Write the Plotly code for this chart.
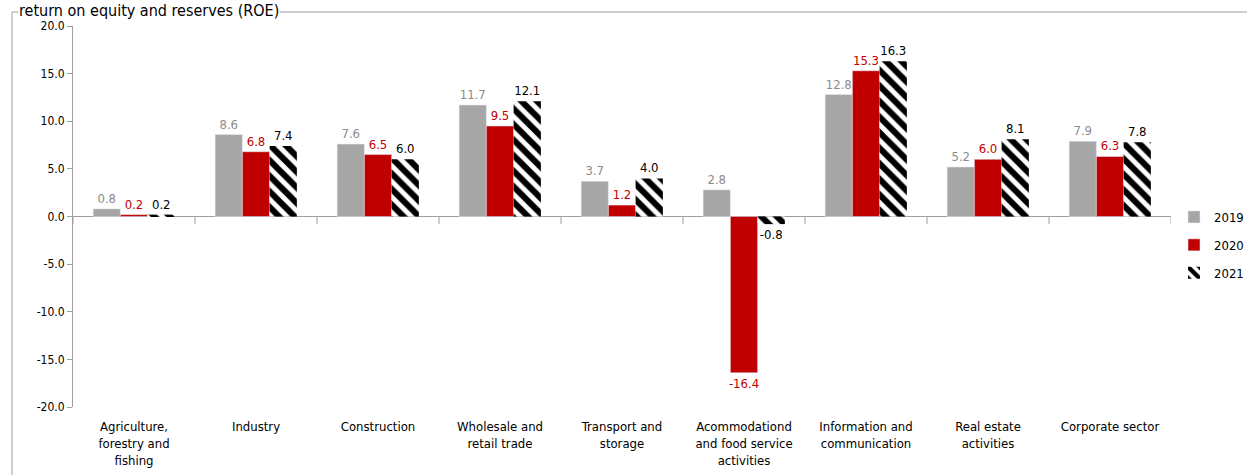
import plotly.graph_objects as go

categories = ["Agriculture,<br>forestry and<br>fishing", "Industry", "Construction",
              "Wholesale and<br>retail trade", "Transport and<br>storage",
              "Acommodationd<br>and food service<br>activities",
              "Information and<br>communication", "Real estate<br>activities", "Corporate sector"]
v2019 = [0.8, 8.6, 7.6, 11.7, 3.7, 2.8, 12.8, 5.2, 7.9]
v2020 = [0.2, 6.8, 6.5, 9.5, 1.2, -16.4, 15.3, 6.0, 6.3]
v2021 = [0.2, 7.4, 6.0, 12.1, 4.0, -0.8, 16.3, 8.1, 7.8]
ytick_vals = [-20, -15, -10, -5, 0, 5, 10, 15, 20]
ytick_text = ["-20.0", "-15.0", "-10.0", "-5.0", "0.0", "5.0", "10.0", "15.0", "20.0"]

FONT = "Tahoma, 'DejaVu Sans Condensed', 'DejaVu Sans', sans-serif"
xs = list(range(len(categories)))


def fmt(vals):
    return [f"{v:.1f}" for v in vals]


common = dict(textposition="outside", cliponaxis=False, constraintext="none")

fig = go.Figure()
fig.add_trace(go.Bar(x=xs, y=v2019, name="2019", marker=dict(color="#a6a6a6"),
                     text=fmt(v2019), textfont=dict(color="#8c8c8c", size=13, family=FONT),
                     legendgroup="a", **common))
fig.add_trace(go.Bar(x=xs, y=v2020, name="2020", marker=dict(color="#c00000"),
                     text=fmt(v2020), textfont=dict(color="#c00000", size=13, family=FONT),
                     legendgroup="b", **common))
fig.add_trace(go.Bar(x=xs, y=v2021, name="2021",
                     marker=dict(color="white", line=dict(width=0),
                                 pattern=dict(shape="\\", fgcolor="#000000", bgcolor="#ffffff",
                                              fgopacity=1, fillmode="replace",
                                              size=11, solidity=0.55)),
                     text=fmt(v2021), textfont=dict(color="black", size=13, family=FONT),
                     legendgroup="c", **common))

L, R, T, B = 73, 76, 26, 68
W, H = 1247, 475
pw, ph = W - L - R, H - T - B

shapes = []
# border frame
shapes.append(dict(type="rect", xref="paper", yref="paper",
                   x0=(12 - L) / pw, x1=1.2, y0=-0.5, y1=(H - B - 12) / ph,
                   line=dict(color="#a0a0a0", width=1), layer="below"))
# category tick marks on zero line
for i in range(len(categories) + 1):
    shapes.append(dict(type="line", xref="x", yref="y", x0=i - 0.5, x1=i - 0.5,
                       y0=0, y1=-0.8, line=dict(color="#a0a0a0", width=1)))

fig.update_layout(
    width=W, height=H,
    margin=dict(l=L, r=R, t=T, b=B, autoexpand=False),
    plot_bgcolor="white", paper_bgcolor="white",
    barmode="group", bargap=0.33, bargroupgap=0,
    font=dict(family=FONT, size=12, color="black"),
    showlegend=True,
    legend=dict(x=(1174 - L) / pw, y=(H - B - 245) / ph, xanchor="left", yanchor="middle",
                font=dict(size=13, family=FONT), tracegroupgap=8,
                bgcolor="rgba(0,0,0,0)"),
    shapes=shapes,
    annotations=[dict(text="return on equity and reserves (ROE)", xref="paper", yref="paper",
                      x=(18 - L) / pw, y=(H - B) / ph, xanchor="left", yanchor="top",
                      showarrow=False, bgcolor="white", borderpad=0,
                      font=dict(size=16, family=FONT, color="black"))],
)
fig.update_xaxes(tickmode="array", tickvals=xs, ticktext=categories,
                 range=[-0.5, len(categories) - 0.5], showline=False, showgrid=False,
                 zeroline=False, ticks="", automargin=False, ticklabelstandoff=10,
                 tickfont=dict(size=13, family=FONT))
fig.update_yaxes(range=[-20, 20], tickvals=ytick_vals, ticktext=ytick_text,
                 showline=True, linecolor="#a0a0a0", linewidth=1,
                 ticks="outside", ticklen=5, tickcolor="#a0a0a0", automargin=False,
                 showgrid=False, zeroline=True, zerolinecolor="#a0a0a0", zerolinewidth=1,
                 tickfont=dict(size=12, family=FONT))

fig.write_html("out.html", post_script="document.body.style.margin='0';",
               config={"displayModeBar": False})
